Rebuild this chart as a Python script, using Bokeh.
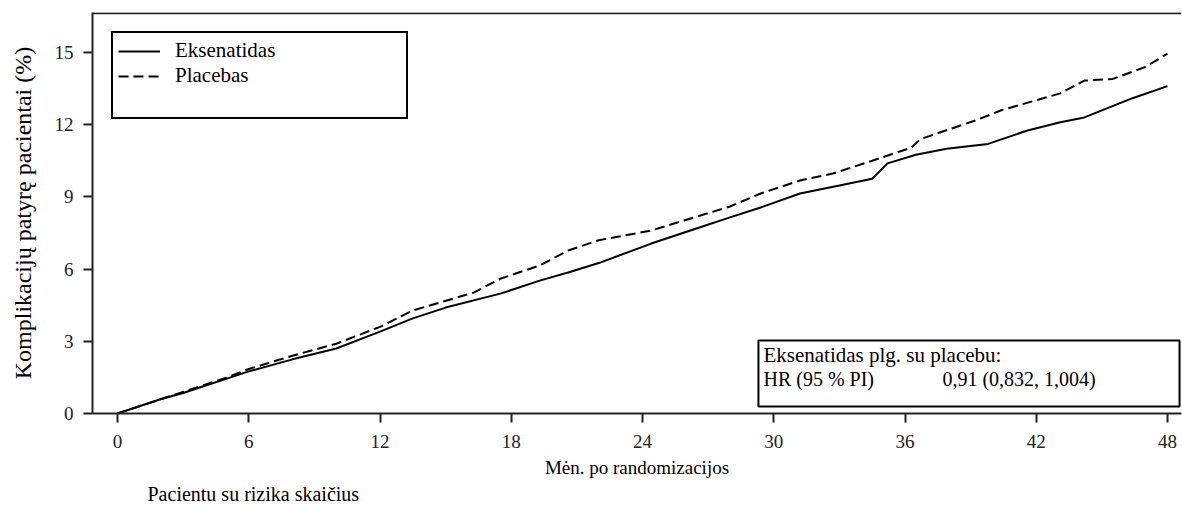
from bokeh.plotting import figure
from bokeh.models import (Range1d, FixedTicker, Legend, LegendItem, Span,
                          BoxAnnotation, Label, Title)
from bokeh.embed import file_html
from bokeh.resources import INLINE

# ---- data ----
exen_months = [0, 1, 2, 3, 4, 5, 6, 8, 10, 12, 13.5, 15, 17.5, 19.3, 20.6, 22,
               24.4, 26.6, 28, 29.4, 31.2, 33, 34.5, 35.2, 36.5, 37.9, 39.8,
               41.6, 43.1, 44.2, 46.4, 48]
exen_pct = [0, 0.3, 0.6, 0.85, 1.15, 1.45, 1.75, 2.25, 2.7, 3.4, 3.95, 4.4,
            4.98, 5.52, 5.86, 6.25, 7.06, 7.73, 8.15, 8.56, 9.14, 9.47, 9.75,
            10.39, 10.75, 11.0, 11.2, 11.76, 12.1, 12.3, 13.1, 13.6]
plac_months = [0, 1, 2, 3, 4, 5, 6, 8, 10, 12, 13.5, 16.3, 17.5, 19.3, 20.6,
               22, 24.4, 25.9, 28, 29.4, 31.2, 32.7, 34.5, 36.3, 36.7, 39.3,
               40.4, 43.1, 44.2, 45.5, 47, 48]
plac_pct = [0, 0.3, 0.6, 0.9, 1.2, 1.5, 1.85, 2.4, 2.9, 3.6, 4.28, 5.03, 5.6,
            6.15, 6.77, 7.2, 7.6, 8.02, 8.6, 9.14, 9.68, 9.97, 10.5, 11.05,
            11.4, 12.2, 12.6, 13.3, 13.83, 13.9, 14.4, 14.95]
x_ticks = [0, 6, 12, 18, 24, 30, 36, 42, 48]
y_ticks = [0, 3, 6, 9, 12, 15]
series_names = ["Eksenatidas", "Placebas"]
hr_title = "Eksenatidas plg. su  placebu:"
hr_label = "HR (95 % PI)"
hr_value = "0,91 (0,832, 1,004)"
x_title = "Mėn. po randomizacijos"
y_title = "Komplikacijų patyrę pacientai (%)"
risk_title = "Pacientu su rizika skaičius"

FONT = "Liberation Serif"
Y_END = 16.66

p = figure(width=1182, height=506, output_backend="svg", toolbar_location=None,
           x_range=Range1d(-1.143, 48.64), y_range=Range1d(0, Y_END),
           min_border_left=92, min_border_right=1, min_border_top=12,
           min_border_bottom=93)
p.outline_line_color = None
p.xgrid.visible = False
p.ygrid.visible = False
p.background_fill_color = "white"
p.border_fill_color = "white"

for ax in (p.xaxis[0], p.yaxis[0]):
    ax.axis_line_width = 2
    ax.axis_line_color = "#222222"
    ax.major_tick_line_width = 2
    ax.major_tick_line_color = "#222222"
    ax.major_tick_out = 9
    ax.major_tick_in = 0
    ax.minor_tick_out = 0
    ax.minor_tick_in = 0
    ax.major_label_text_font = FONT
    ax.major_label_text_font_size = "19px"
    ax.major_label_text_color = "#222222"
    ax.axis_label_text_font = FONT
    ax.axis_label_text_font_style = "normal"
    ax.axis_label_text_color = "black"

p.xaxis[0].ticker = FixedTicker(ticks=x_ticks)
p.yaxis[0].ticker = FixedTicker(ticks=y_ticks)
p.xaxis[0].major_label_standoff = 12
p.yaxis[0].major_label_standoff = 10
p.xaxis[0].axis_label = x_title
p.yaxis[0].axis_label = y_title
p.xaxis[0].axis_label_text_font_size = "19px"
p.yaxis[0].axis_label_text_font_size = "24px"
p.xaxis[0].axis_label_standoff = 6
p.yaxis[0].axis_label_standoff = 16

top_line = Span(location=Y_END - 0.03, dimension="width", line_color="#222222", line_width=2)
p.add_layout(top_line)

r1 = p.line(exen_months, exen_pct, line_color="black", line_width=2)
r2 = p.line(plac_months, plac_pct, line_color="black", line_width=2, line_dash="10 5")
r_blank = p.line([0], [0], line_alpha=0)

legend = Legend(items=[LegendItem(label=series_names[0], renderers=[r1]),
                       LegendItem(label=series_names[1], renderers=[r2]),
                       LegendItem(label=" ", renderers=[r_blank])],
                location="top_left", margin=19, padding=5, spacing=0,
                glyph_width=42, glyph_height=24, label_height=24,
                label_standoff=15, label_width=226,
                border_line_color="black", border_line_width=2,
                border_line_alpha=1,
                background_fill_color="white", background_fill_alpha=1,
                label_text_font=FONT, label_text_font_size="21px",
                label_text_color="black")
p.add_layout(legend)

box = BoxAnnotation(left=29.3, right=48.55, bottom=0.29, top=3.03,
                    fill_color="white", fill_alpha=1, line_color="black",
                    line_width=2, line_alpha=1)
p.add_layout(box)

for txt, x, y, fs in [(hr_title, 29.53, 2.45, "21px"), (hr_label, 29.53, 1.45, "20px"),
                      (hr_value, 37.71, 1.45, "20px")]:
    p.add_layout(Label(x=x, y=y, text=txt, text_font=FONT, text_font_size=fs,
                       text_baseline="middle", text_align="left", text_color="black"))

risk = Title(text=risk_title, align="left", offset=55, standoff=0,
             text_font=FONT, text_font_size="20px", text_font_style="normal",
             text_color="black")
p.add_layout(risk, "below")

open("out.html", "w").write(file_html(p, INLINE))
